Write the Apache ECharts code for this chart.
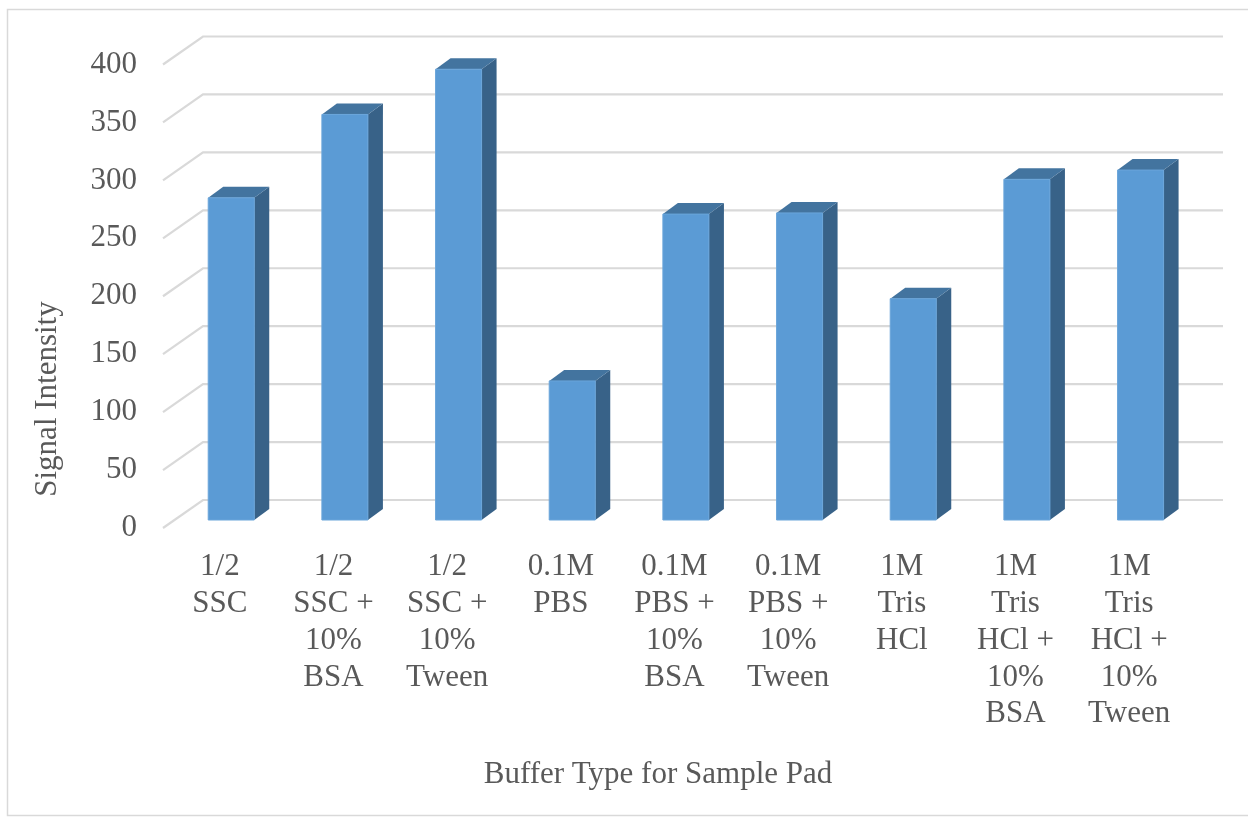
<!DOCTYPE html>
<html>
<head>
<meta charset="utf-8">
<title>Signal Intensity by Buffer Type</title>
<script src="https://cdn.jsdelivr.net/npm/echarts@6/dist/echarts.min.js"></script>
<style>
  html, body { margin: 0; padding: 0; background: #ffffff; }
  #chart { width: 1248px; height: 817px; }
</style>
</head>
<body>
<div id="chart"></div>
<script>
// Buffer types tested on the sample pad
var categories = [
  '1/2\nSSC',
  '1/2\nSSC +\n10%\nBSA',
  '1/2\nSSC +\n10%\nTween',
  '0.1M\nPBS',
  '0.1M\nPBS +\n10%\nBSA',
  '0.1M\nPBS +\n10%\nTween',
  '1M\nTris\nHCl',
  '1M\nTris\nHCl +\n10%\nBSA',
  '1M\nTris\nHCl +\n10%\nTween'
];

// Measured signal intensity for each buffer
var signalValues = [278, 350, 389, 120, 264, 265, 191, 294, 302];

// Value axis ticks
var yTicks = [0, 50, 100, 150, 200, 250, 300, 350, 400];

var TEXT = '#595959';
var FONT = "'Liberation Serif', 'Times New Roman', serif";

// Oblique depth of the chart box (front plane -> back wall)
var DEPTH_X = 40, DEPTH_Y = -28;
// Where the bar sits inside that depth, and how deep the bar is
var BAR_SHIFT_X = 11.4, BAR_SHIFT_Y = -8;
var BAR_DX = 15, BAR_DY = -11;
var BAR_WIDTH_RATIO = 0.405;

var chart = echarts.init(document.getElementById('chart'), null, { renderer: 'canvas' });

function renderGridLine(params, api) {
  var cs = params.coordSys;
  var y = api.coord([0, api.value(1)])[1];
  var x0 = cs.x;
  var x1 = cs.x + cs.width + DEPTH_X - 3;
  return {
    type: 'polyline',
    shape: { points: [[x0, y], [x0 + DEPTH_X, y + DEPTH_Y], [x1, y + DEPTH_Y]] },
    style: { stroke: '#d9d9d9', lineWidth: 2.2, fill: null }
  };
}

function renderBar(params, api) {
  var idx = api.value(0);
  var top = api.coord([idx, api.value(1)]);
  var base = api.coord([idx, 0]);
  var band = api.size([1, 0])[0];
  var w = band * BAR_WIDTH_RATIO;
  var cx = top[0] + BAR_SHIFT_X;
  var L = cx - w / 2, R = cx + w / 2;
  var T = top[1] + BAR_SHIFT_Y, B = base[1] + BAR_SHIFT_Y;
  return {
    type: 'group',
    children: [
      {
        type: 'polygon',
        shape: { points: [[R, T], [R + BAR_DX, T + BAR_DY], [R + BAR_DX, B + BAR_DY], [R, B]] },
        style: { fill: '#386288' }
      },
      {
        type: 'polygon',
        shape: { points: [[L, T], [L + BAR_DX, T + BAR_DY], [R + BAR_DX, T + BAR_DY], [R, T]] },
        style: { fill: '#43749f' }
      },
      {
        type: 'rect',
        shape: { x: L, y: T, width: w, height: B - T },
        style: { fill: '#5b9bd5', stroke: '#6aa5da', lineWidth: 1 }
      }
    ]
  };
}

var option = {
  animation: false,
  backgroundColor: '#ffffff',
  grid: { left: 163, right: 62, top: 64.5, bottom: 289 },
  xAxis: {
    type: 'category',
    data: categories,
    axisLine: { show: false },
    axisTick: { show: false },
    splitLine: { show: false },
    axisLabel: {
      interval: 0,
      margin: 21,
      color: TEXT,
      fontFamily: FONT,
      fontSize: 31,
      lineHeight: 36.7,
      align: 'center'
    }
  },
  yAxis: {
    type: 'value',
    min: 0,
    max: 400,
    interval: 50,
    axisLine: { show: false },
    axisTick: { show: false },
    splitLine: { show: false },
    axisLabel: {
      margin: 26,
      color: TEXT,
      fontFamily: FONT,
      fontSize: 31
    }
  },
  series: [
    {
      type: 'custom',
      name: 'gridlines',
      clip: false,
      silent: true,
      z: 1,
      renderItem: renderGridLine,
      data: yTicks.map(function (v) { return [0, v]; })
    },
    {
      type: 'custom',
      name: 'Signal Intensity',
      clip: false,
      z: 2,
      renderItem: renderBar,
      encode: { x: 0, y: 1 },
      data: signalValues.map(function (v, i) { return [i, v]; })
    }
  ],
  graphic: [
    {
      type: 'rect',
      z: -10,
      shape: { x: 7.5, y: 9.5, width: 1260, height: 806 },
      style: { fill: null, stroke: '#d9d9d9', lineWidth: 1.5 }
    },
    {
      type: 'text',
      x: 48,
      y: 399,
      rotation: Math.PI / 2,
      style: {
        text: 'Signal Intensity',
        fill: TEXT,
        font: '31px ' + FONT,
        textAlign: 'center',
        textVerticalAlign: 'middle'
      }
    },
    {
      type: 'text',
      x: 658,
      y: 775,
      style: {
        text: 'Buffer Type for Sample Pad',
        fill: TEXT,
        font: '31px ' + FONT,
        textAlign: 'center',
        textVerticalAlign: 'middle'
      }
    }
  ]
};

chart.setOption(option);
</script>
</body>
</html>
